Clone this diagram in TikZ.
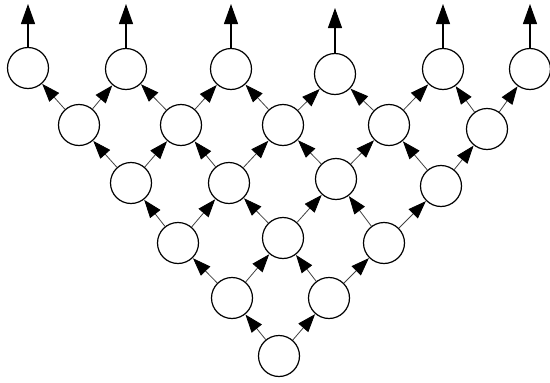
\documentclass[tikz,border=0pt]{standalone}
\usetikzlibrary{arrows.meta}
\begin{document}
\begin{tikzpicture}[x=1pt,y=-1pt,
  cell/.style={circle,draw,line width=1.2pt,minimum size=41pt,inner sep=0pt},
  link/.style={line width=0.8pt,draw=black!75,-{Triangle[length=18pt,width=13pt,black]},shorten >=0.3pt},
  outlink/.style={line width=1.1pt,-{Triangle[length=20pt,width=14pt]}}]
\useasboundingbox (0,0) rectangle (550,383);
% row 0
\node[cell] (n00) at (279,356) {};
% row 1
\node[cell] (n10) at (232,298) {};
\node[cell] (n11) at (329,298) {};
% row 2
\node[cell] (n20) at (178,243) {};
\node[cell] (n21) at (283,238) {};
\node[cell] (n22) at (384,243) {};
% row 3
\node[cell] (n30) at (131,183) {};
\node[cell] (n31) at (229,183) {};
\node[cell] (n32) at (336,179) {};
\node[cell] (n33) at (441,186) {};
% row 4
\node[cell] (n40) at (79,125) {};
\node[cell] (n41) at (181,125) {};
\node[cell] (n42) at (283,125) {};
\node[cell] (n43) at (389,125) {};
\node[cell] (n44) at (487,129) {};
% row 5
\node[cell] (n50) at (28,68) {};
\node[cell] (n51) at (126,69) {};
\node[cell] (n52) at (231,69) {};
\node[cell] (n53) at (335,74) {};
\node[cell] (n54) at (443,69) {};
\node[cell] (n55) at (530,69) {};
% diagonal links
\foreach \r/\n in {0/1,1/2,2/3,3/4,4/5}{
  \foreach \i in {0,...,\r}{
    \pgfmathtruncatemacro{\j}{\i+1}
    \draw[link] (n\r\i) -- (n\n\i);
    \draw[link] (n\r\i) -- (n\n\j);
  }
}
% outputs
\coordinate (o0) at (28,4);
\coordinate (o1) at (126,4);
\coordinate (o2) at (231,4);
\coordinate (o3) at (335,8);
\coordinate (o4) at (443,4);
\coordinate (o5) at (530,4);
\foreach \i in {0,...,5}{
  \draw[outlink] (n5\i.north) -- (o\i);
}
\end{tikzpicture}
\end{document}
